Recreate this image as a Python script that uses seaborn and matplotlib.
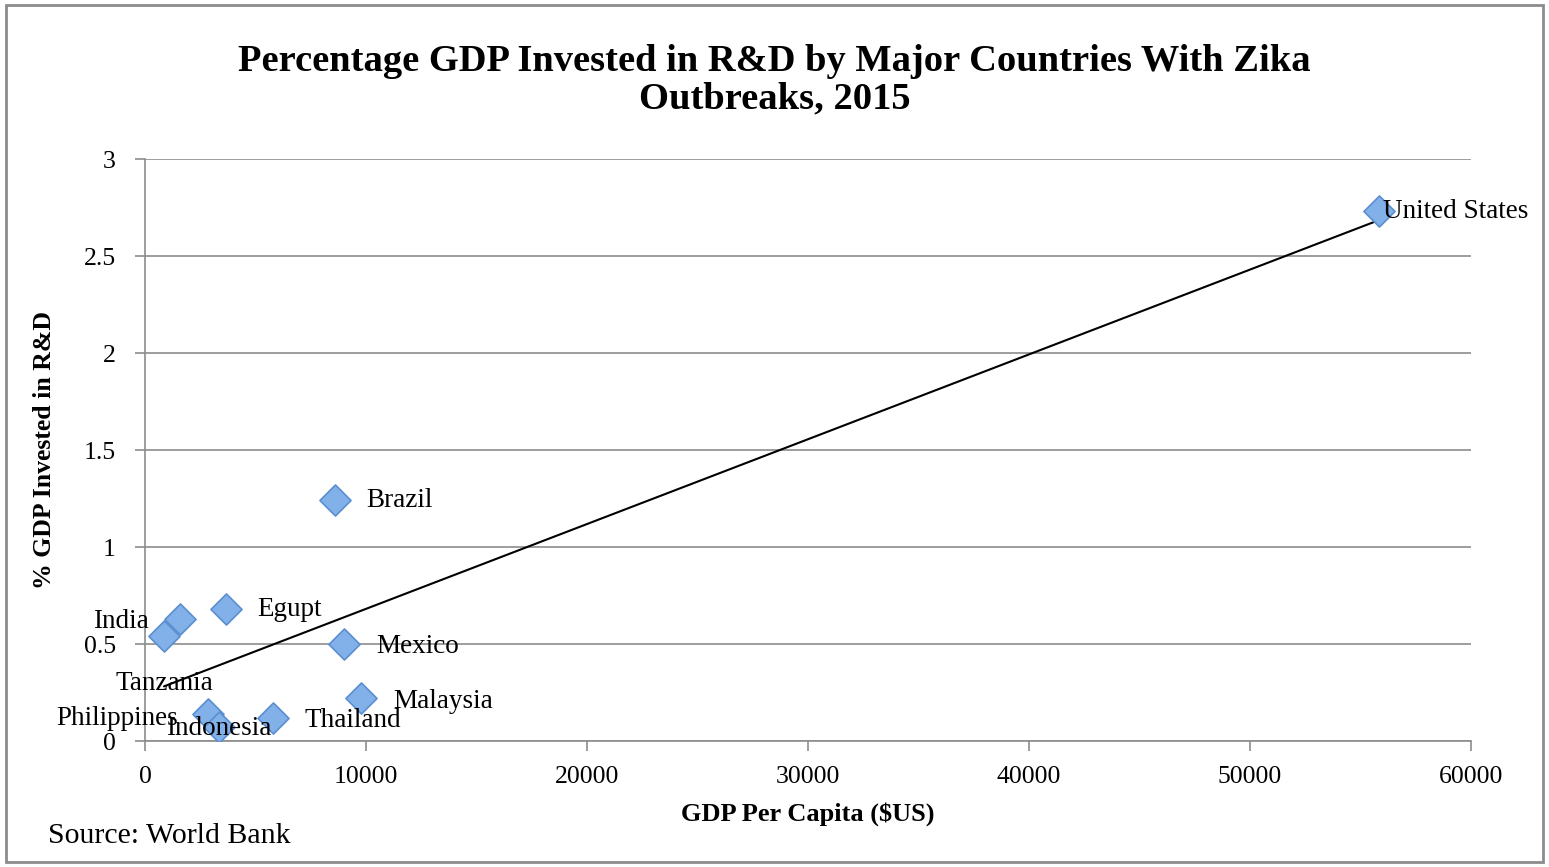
import matplotlib
matplotlib.use("Agg")
import matplotlib.pyplot as plt
import seaborn as sns
import pandas as pd
import numpy as np
from matplotlib.patches import Rectangle

countries = ["United States", "Brazil", "Egupt", "India", "Tanzania", "Mexico",
             "Malaysia", "Thailand", "Philippines", "Indonesia"]
gdp_per_capita = [55840, 8600, 3660, 1590, 860, 9000, 9770, 5790, 2850, 3350]
rd_pct = [2.73, 1.24, 0.68, 0.63, 0.54, 0.50, 0.22, 0.12, 0.14, 0.07]

df = pd.DataFrame({"country": countries, "gdp": gdp_per_capita, "rd": rd_pct})

sns.set_theme(style="white")
plt.rcParams["font.family"] = ["Liberation Serif", "DejaVu Serif"]
plt.rcParams["text.color"] = "black"
plt.rcParams["axes.labelcolor"] = "black"
plt.rcParams["xtick.color"] = "black"
plt.rcParams["ytick.color"] = "black"

fig = plt.figure(figsize=(15.49, 8.67), dpi=100)
ax = fig.add_axes([0.0936, 0.1453, 0.9497 - 0.0936, 0.8166 - 0.1453])

# trendline
sns.regplot(data=df, x="gdp", y="rd", ax=ax, ci=None, scatter=False, truncate=True,
            line_kws={"color": "black", "lw": 1.5, "zorder": 2})
sns.scatterplot(data=df, x="gdp", y="rd", ax=ax, marker="D", s=250,
                color="#82B0E8", edgecolor="#5B8FD0", linewidth=1.2, zorder=3)

offsets = {
    "United States": (4, 0, "left", "center"),
    "Brazil": (31, 0, "left", "center"),
    "Egupt": (31, 0, "left", "center"),
    "India": (-31, -3, "right", "center"),
    "Tanzania": (0, -47, "center", "center"),
    "Mexico": (32, -2, "left", "center"),
    "Malaysia": (32, -3, "left", "center"),
    "Thailand": (32, -3, "left", "center"),
    "Philippines": (-30, -5, "right", "center"),
    "Indonesia": (0, -1, "center", "center"),
}
for c, x, y in zip(countries, gdp_per_capita, rd_pct):
    dx, dy, ha, va = offsets[c]
    ax.annotate(c, (x, y), xytext=(dx, dy), textcoords="offset pixels",
                ha=ha, va=va, fontsize=19.5, color="black", zorder=4)

ax.set_xlim(0, 60000)
ax.set_ylim(0, 3)
ax.set_xticks([0, 10000, 20000, 30000, 40000, 50000, 60000])
ax.set_xticklabels(["0", "10000", "20000", "30000", "40000", "50000", "60000"])
ax.set_yticks([0, 0.5, 1, 1.5, 2, 2.5, 3])
ax.set_yticklabels(["0", "0.5", "1", "1.5", "2", "2.5", "3"])
ax.yaxis.grid(True, color="#8c8c8c", lw=1.2)
ax.xaxis.grid(False)
ax.set_axisbelow(True)
for s in ["top", "right"]:
    ax.spines[s].set_visible(False)
for s in ["left", "bottom"]:
    ax.spines[s].set_color("#8c8c8c")
    ax.spines[s].set_linewidth(1.2)
ax.tick_params(axis="both", which="major", length=7, width=1.2, color="#8c8c8c",
               labelcolor="black", labelsize=18.5, direction="out", bottom=True, left=True)
ax.tick_params(axis="x", pad=11)
ax.tick_params(axis="y", pad=14)

ax.set_xlabel("GDP Per Capita ($US)", fontsize=19, fontweight="bold", labelpad=10)
ax.set_ylabel("% GDP Invested in R&D", fontsize=18.5, fontweight="bold", labelpad=20)

fig.text(0.5, 1 - 80 / 867, "Percentage GDP Invested in R&D by Major Countries With Zika\nOutbreaks, 2015",
         ha="center", va="center", fontsize=27.7, fontweight="bold", linespacing=1.08)
fig.text(48 / 1549, 1 - 836 / 867, "Source: World Bank", ha="left", va="center", fontsize=21.5)

fig.add_artist(Rectangle((6 / 1549, 5 / 867), 1537 / 1549, 857 / 867, transform=fig.transFigure,
                         fill=False, edgecolor="#8c8c8c", lw=2))

fig.savefig("out.png", dpi=100)
